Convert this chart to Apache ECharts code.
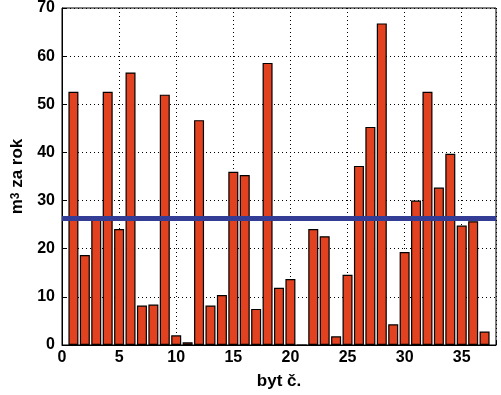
<!DOCTYPE html>
<html>
<head>
<meta charset="utf-8">
<script src="https://cdn.jsdelivr.net/npm/echarts@6/dist/echarts.min.js"></script>
<style>html,body{margin:0;padding:0;background:#fff;}#c{width:501px;height:395px;}</style>
</head>
<body>
<div id="c"></div>
<script>
var flats = [1,2,3,4,5,6,7,8,9,10,11,12,13,14,15,16,17,18,19,20,21,22,23,24,25,26,27,28,29,30,31,32,33,34,35,36,37];
var consumption = [52.6,18.7,26.5,52.6,24.1,56.6,8.2,8.4,52.0,2.0,0.55,46.7,8.2,10.4,36.0,35.3,7.5,58.6,11.9,13.7,0,24.1,22.6,1.8,14.6,37.2,45.3,66.8,4.3,19.3,30.0,52.6,32.7,39.7,24.8,25.7,2.8];
var meanX = [0, 38];
var meanY = [26.3, 26.3];
var xTicks = [0,5,10,15,20,25,30,35];
var yTicks = [0,10,20,30,40,50,60,70];

var chart = echarts.init(document.getElementById('c'), null, {renderer:'canvas'});
var font = 'Liberation Sans, Arial, sans-serif';
var axisCommon = {
  axisLine:{show:true, lineStyle:{color:'#000', width:1}},
  axisTick:{show:true, inside:true, length:4, lineStyle:{color:'#000'}},
  splitLine:{show:true, lineStyle:{color:'#000', type:[1,3], width:1}}
};
chart.setOption({
  animation:false,
  backgroundColor:'#fff',
  grid:{left:62, right:5, top:8, bottom:47, show:true, borderColor:'#000', borderWidth:1, backgroundColor:'transparent'},
  xAxis:Object.assign({
    type:'value', min:0, max:38, interval:5,
    name:'byt č.', nameLocation:'middle', nameGap:28,
    nameTextStyle:{fontFamily:font, fontWeight:'bold', fontSize:17, color:'#000'},
    axisLabel:{fontFamily:font, fontWeight:'bold', fontSize:16, color:'#000', margin:5,
      formatter:function(v){return xTicks.indexOf(v)>=0 ? String(v) : '';}}
  }, axisCommon),
  yAxis:Object.assign({
    type:'value', min:0, max:70, interval:10,
    name:'{a|m}{s|3}{a| za rok}', nameLocation:'middle', nameGap:28,
    nameTextStyle:{fontFamily:font, fontWeight:'bold', fontSize:17, color:'#000',
      rich:{
        a:{fontFamily:font, fontWeight:'bold', fontSize:17, color:'#000', verticalAlign:'bottom'},
        s:{fontFamily:font, fontWeight:'bold', fontSize:12, color:'#000', verticalAlign:'top'}
      }},
    axisLabel:{fontFamily:font, fontWeight:'bold', fontSize:16, color:'#000', margin:7,
      formatter:function(v){return yTicks.indexOf(v)>=0 ? String(v) : '';}}
  }, axisCommon),
  series:[
    {
      type:'bar',
      data:flats.map(function(x,i){return [x, consumption[i]];}),
      barWidth:10,
      itemStyle:{color:'#e2421f', borderColor:'#000', borderWidth:1.2},
      z:2
    },
    {
      type:'line',
      data:meanX.map(function(x,i){return [x, meanY[i]];}),
      symbol:'none',
      lineStyle:{color:'#333d96', width:5},
      z:3
    }
  ]
});
</script>
</body>
</html>
